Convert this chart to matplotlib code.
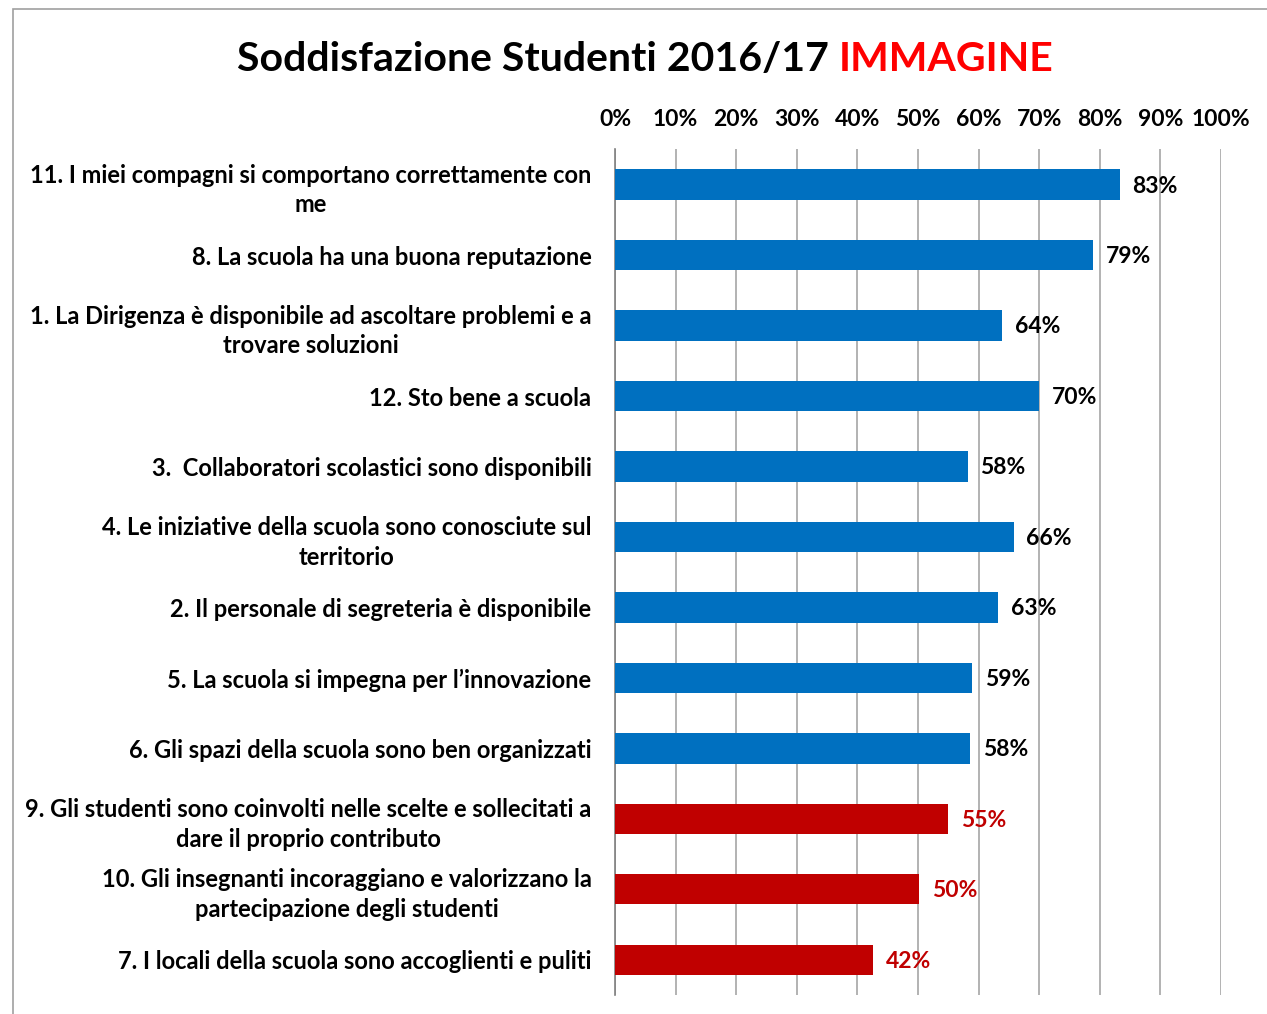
import matplotlib.pyplot as plt
import numpy as np
from matplotlib.patches import Rectangle

# data (top to bottom)
categories = [
    "11. I miei compagni si comportano correttamente con\nme",
    "8. La scuola ha una buona reputazione",
    "1. La Dirigenza è disponibile ad ascoltare problemi e a\ntrovare soluzioni",
    "12. Sto bene a scuola",
    "3.  Collaboratori scolastici sono disponibili",
    "4. Le iniziative della scuola sono conosciute sul\nterritorio",
    "2. Il personale di segreteria è disponibile",
    "5. La scuola si impegna per l\u2019innovazione",
    "6. Gli spazi della scuola sono ben organizzati",
    "9. Gli studenti sono coinvolti nelle scelte e sollecitati a\ndare il proprio contributo",
    "10. Gli insegnanti incoraggiano e valorizzano la\npartecipazione degli studenti",
    "7. I locali della scuola sono accoglienti e puliti",
]
values = [0.833, 0.789, 0.639, 0.700, 0.582, 0.658, 0.632, 0.589, 0.586, 0.550, 0.502, 0.426]
labels = ["83%", "79%", "64%", "70%", "58%", "66%", "63%", "59%", "58%", "55%", "50%", "42%"]
low_score = [False] * 9 + [True] * 3

BLUE = "#0070C0"
DARK_RED = "#C00000"
plt.rcParams['font.family'] = ['Lato', 'DejaVu Sans']
plt.rcParams['font.weight'] = 'bold'

fig = plt.figure(figsize=(12.67, 10.14), dpi=100)
ax = fig.add_axes([0.4854, 0.0187, 0.4783, 0.834])

y = np.arange(len(categories))
colors = [DARK_RED if low else BLUE for low in low_score]
ax.barh(y, values, height=0.43, color=colors, zorder=3)

# value labels next to the bars
for yi, v, lab, low in zip(y, values, labels, low_score):
    ax.text(v + 0.021, yi + 0.02, lab, va='center', ha='left', fontsize=16.5, fontweight='bold',
            color=DARK_RED if low else 'black', zorder=4)

ax.set_xlim(0, 1)
ax.set_ylim(len(categories) - 0.5, -0.5)
ticks = np.arange(0, 1.01, 0.1)
ax.set_xticks(ticks)
ax.set_xticklabels([f"{int(round(t * 100))}%" for t in ticks], fontsize=16.5, fontweight='bold')
ax.xaxis.tick_top()
ax.tick_params(axis='x', length=0, pad=14)
ax.grid(axis='x', color='#A6A6A6', linewidth=1.2, zorder=0)

ax.set_yticks(y)
ax.set_yticklabels(categories, fontsize=17, fontweight='bold', multialignment='center', linespacing=1.35)
ax.tick_params(axis='y', length=0, pad=17)

for side in ['top', 'right', 'bottom']:
    ax.spines[side].set_visible(False)
ax.spines['left'].set_color('#808080')
ax.spines['left'].set_linewidth(1.2)

# outer frame of the chart area
fig.patches.append(Rectangle((13 / 1267, -0.01), 1.02, 1 - 9 / 1014 + 0.01, transform=fig.transFigure,
                             fill=False, edgecolor='#A0A0A0', linewidth=1.2))

# two-colour title, centred as a whole
t1 = fig.text(0, 0.941, "Soddisfazione Studenti 2016/17 ", fontsize=29.5, fontweight='bold',
              color='black', ha='left', va='center')
t2 = fig.text(0, 0.941, "IMMAGINE", fontsize=29.5, fontweight='bold', color='#FF0000', ha='left', va='center')
fig.canvas.draw()
r = fig.canvas.get_renderer()
w1 = t1.get_window_extent(r).width / fig.bbox.width
w2 = t2.get_window_extent(r).width / fig.bbox.width
x0 = 645 / 1267 - (w1 + w2) / 2
t1.set_x(x0)
t2.set_x(x0 + w1)

fig.savefig("out.png", dpi=100)
